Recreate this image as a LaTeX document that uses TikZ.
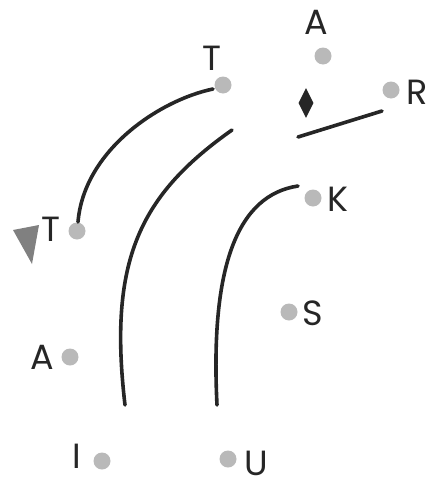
\documentclass[tikz,border=0pt]{standalone}
\usepackage{fontspec}
\setmainfont{Poppins}
\usetikzlibrary{shapes.geometric}
\begin{document}
\begin{tikzpicture}[x=1pt,y=-1pt,
  dot/.style={circle,fill=gray!55,minimum size=17pt,inner sep=0pt},
  lbl/.style={font=\fontsize{35}{35}\selectfont,inner sep=0pt,text depth=0pt,text=black!85},
  curve/.style={line width=3.6pt,line cap=round,black!85}]
\useasboundingbox (0,0) rectangle (431,482);
% dots
\node[dot] (dT1) at (223,85) {};
\node[dot] (dA1) at (323,56) {};
\node[dot] (dR) at (391,90) {};
\node[dot] (dK) at (313,198) {};
\node[dot] (dS) at (289,312) {};
\node[dot] (dU) at (228,459) {};
\node[dot] (dI) at (102,461) {};
\node[dot] (dA2) at (70,357) {};
\node[dot] (dT2) at (77,231) {};
% labels
\node[lbl] (lT1) at (212,58) {T};
\node[lbl] (lA1) at (316,22) {A};
\node[lbl] (lR) at (417,92) {R};
\node[lbl] (lK) at (338,199) {K};
\node[lbl] (lS) at (313,313) {S};
\node[lbl] (lU) at (256,463) {U};
\node[lbl] (lI) at (77,456) {I};
\node[lbl] (lA2) at (42,357) {A};
\node[lbl] (lT2) at (51,229) {T};
% diamond
\node[diamond,fill=black!85,minimum width=15pt,minimum height=30pt,inner sep=0pt,aspect=0.45] (dm) at (306,103) {};
% triangle
\coordinate (t1) at (13,230);
\coordinate (t2) at (39,225);
\coordinate (t3) at (32,264);
\fill[gray!75!black!80] (t1) -- (t2) -- (t3) -- cycle;
% curves
\coordinate (c1a) at (78,222);
\coordinate (c1b) at (213,89);
\draw[curve] (c1a) .. controls (84,150) and (160,100) .. (c1b);
\coordinate (c2a) at (125,405);
\coordinate (c2b) at (232,130);
\draw[curve] (c2a) .. controls (108,260) and (140,195) .. (c2b);
\coordinate (c3a) at (217,405);
\coordinate (c3b) at (298,186);
\draw[curve] (c3a) .. controls (210,265) and (238,195) .. (c3b);
\coordinate (l1) at (298,137);
\coordinate (l2) at (382,111);
\draw[curve] (l1) -- (l2);
\end{tikzpicture}
\end{document}
